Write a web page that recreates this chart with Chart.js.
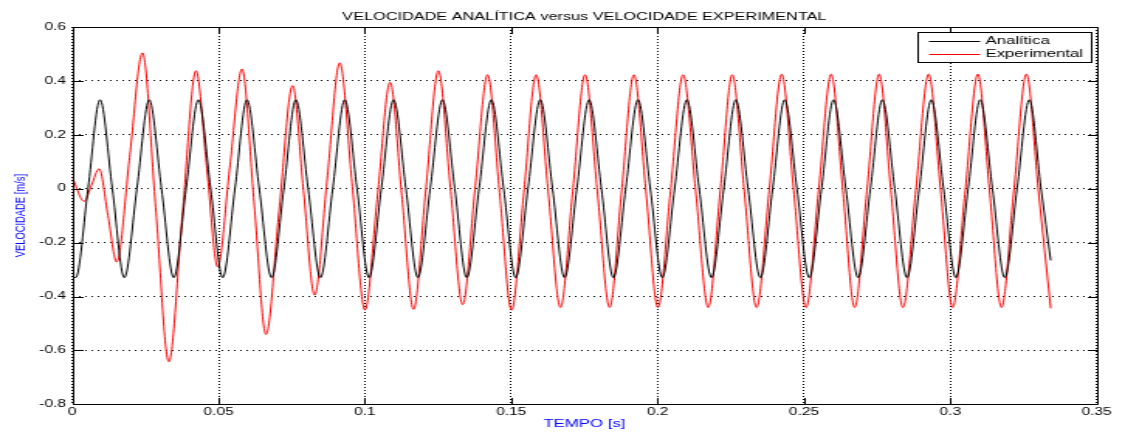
<!DOCTYPE html>
<html>
<head>
<meta charset="utf-8">
<script src="https://cdn.jsdelivr.net/npm/chart.js@4/dist/chart.umd.min.js"></script>
<style>
  html, body { margin: 0; padding: 0; background: #fff; overflow: hidden; }
  #wrap { width: 1125px; height: 432px; position: relative; }
  #c { position: absolute; left: 0; top: 0; transform: scaleX(1.5496); transform-origin: 0 0; }
</style>
</head>
<body>
<div id="wrap"><canvas id="c" width="726" height="432"></canvas></div>
<script>
// ---- data ----
const chartTitle = 'VELOCIDADE ANALÍTICA versus VELOCIDADE EXPERIMENTAL';
const xTitle = 'TEMPO [s]';
const yTitle = 'VELOCIDADE [m/s]';
const seriesNames = ['Analítica', 'Experimental'];

const xTickLabels = ['0', '0.05', '0.1', '0.15', '0.2', '0.25', '0.3', '0.35'];
const yTickLabels = ['-0.8', '-0.6', '-0.4', '-0.2', '0', '0.2', '0.4', '0.6'];

// Analítica (black): time [s]
const tAnalitica = [0,
  0.0012, 0.0054, 0.0095, 0.0137,
  0.0178, 0.0221, 0.0263, 0.0305,
  0.0347, 0.0389, 0.0431, 0.0473,
  0.0514, 0.0556, 0.0597, 0.0639,
  0.0681, 0.0723, 0.0764, 0.0806,
  0.0848, 0.0890, 0.0931, 0.0973,
  0.1014, 0.1056, 0.1098, 0.1140,
  0.1181, 0.1223, 0.1265, 0.1307,
  0.1348, 0.1390, 0.1432, 0.1474,
  0.1515, 0.1557, 0.1599, 0.1641,
  0.1682, 0.1724, 0.1766, 0.1808,
  0.1849, 0.1891, 0.1933, 0.1975,
  0.2016, 0.2058, 0.2100, 0.2142,
  0.2184, 0.2226, 0.2267, 0.2309,
  0.2351, 0.2393, 0.2434, 0.2476,
  0.2518, 0.2560, 0.2601, 0.2643,
  0.2685, 0.2727, 0.2768, 0.2810,
  0.2852, 0.2894, 0.2935, 0.2977,
  0.3019, 0.3061, 0.3102, 0.3144,
  0.3186, 0.3228, 0.3270, 0.3310,
  0.3343];
// Analítica (black): velocity [m/s]
const vAnalitica = [-0.325,
  -0.33, 0, 0.33, 0,
  -0.33, 0, 0.33, 0,
  -0.33, 0, 0.33, 0,
  -0.33, 0, 0.33, 0,
  -0.33, 0, 0.33, 0,
  -0.33, 0, 0.33, 0,
  -0.33, 0, 0.33, 0,
  -0.33, 0, 0.33, 0,
  -0.33, 0, 0.33, 0,
  -0.33, 0, 0.33, 0,
  -0.33, 0, 0.33, 0,
  -0.33, 0, 0.33, 0,
  -0.33, 0, 0.33, 0,
  -0.33, 0, 0.33, 0,
  -0.33, 0, 0.33, 0,
  -0.33, 0, 0.33, 0,
  -0.33, 0, 0.33, 0,
  -0.33, 0, 0.33, 0,
  -0.33, 0, 0.33, 0,
  -0.33, 0, 0.33, 0,
  -0.266];

// Experimental (red): time [s]
const tExperimental = [0, 0.0041, 0.0066, 0.0092, 0.0122, 0.0152, 0.0196, 0.0240, 0.0285, 0.0330,
  0.0376, 0.0423, 0.0460, 0.0497, 0.0538, 0.0580, 0.0621, 0.0662, 0.0707, 0.0753,
  0.0790, 0.0828, 0.0871, 0.0914, 0.0957, 0.1000, 0.1043, 0.1086, 0.1126, 0.1166,
  0.1208, 0.1251, 0.1292, 0.1334, 0.1376, 0.1419, 0.1460, 0.1501, 0.1543, 0.1585,
  0.1626, 0.1668, 0.1710, 0.1752, 0.1794, 0.1836, 0.1877, 0.1919, 0.1960, 0.2001,
  0.2044, 0.2087, 0.2130, 0.2173, 0.2214, 0.2255, 0.2296, 0.2338, 0.2381, 0.2424,
  0.2465, 0.2507, 0.2550, 0.2593, 0.2633, 0.2673, 0.2715, 0.2757, 0.2797, 0.2838,
  0.2882, 0.2926, 0.2967, 0.3008, 0.3051, 0.3094, 0.3134, 0.3175, 0.3217, 0.3260,
  0.3301, 0.3343];
// Experimental (red): velocity [m/s]
const vExperimental = [0.043, -0.047, 0.013, 0.074, -0.099, -0.272, 0.116, 0.504, -0.069, -0.642,
  -0.102, 0.438, 0.074, -0.290, 0.077, 0.444, -0.048, -0.541, -0.079, 0.383,
  -0.006, -0.395, 0.036, 0.467, 0.008, -0.450, -0.027, 0.395, -0.026, -0.448,
  -0.005, 0.438, 0.004, -0.430, -0.003, 0.423, -0.014, -0.451, -0.014, 0.423,
  -0.009, -0.441, -0.009, 0.423, -0.009, -0.441, -0.009, 0.423, -0.009, -0.441,
  -0.009, 0.423, -0.009, -0.441, -0.009, 0.423, -0.009, -0.441, -0.008, 0.425,
  -0.008, -0.441, -0.008, 0.425, -0.008, -0.441, -0.008, 0.425, -0.008, -0.441,
  -0.008, 0.425, -0.008, -0.441, -0.008, 0.425, -0.008, -0.441, -0.008, 0.425,
  -0.008, -0.444];

// ---- chart ----
const FONT = "'Liberation Sans', Arial, Helvetica, sans-serif";
Chart.defaults.font.family = FONT;
Chart.defaults.color = '#000';

const toPoints = (ts, vs) => ts.map((t, i) => ({ x: t, y: vs[i] }));

const crisp = v => Math.round(v) + 0.5;

const framePlugin = {
  id: 'matlabFrame',
  afterDatasetsDraw(chart) {
    const { ctx, chartArea: a, scales } = chart;
    const x = scales.x, y = scales.y;
    ctx.save();
    ctx.setLineDash([]);
    ctx.strokeStyle = '#000';
    ctx.lineWidth = 1;
    const L = crisp(a.left), R = crisp(a.right), T = crisp(a.top), B = crisp(a.bottom);
    ctx.beginPath();
    ctx.rect(L, T, R - L, B - T);
    // inward tick marks on all four sides
    x.ticks.forEach(t => {
      const px = crisp(x.getPixelForValue(t.value));
      ctx.moveTo(px, B); ctx.lineTo(px, B - 6.5);
      ctx.moveTo(px, T); ctx.lineTo(px, T + 6.5);
    });
    y.ticks.forEach(t => {
      const py = crisp(y.getPixelForValue(t.value));
      ctx.moveTo(L, py); ctx.lineTo(L + 6.5, py);
      ctx.moveTo(R, py); ctx.lineTo(R - 6.5, py);
    });
    ctx.stroke();

    // legend box (top-right, inside the axes)
    const bw = 112, bh = 30;
    const bx = crisp(a.right - 4 - bw), by = crisp(a.top + 5);
    ctx.fillStyle = '#fff';
    ctx.fillRect(bx, by, bw, bh);
    ctx.strokeRect(bx, by, bw, bh);
    ctx.font = "10.8px " + FONT;
    ctx.textBaseline = 'middle';
    ctx.textAlign = 'left';
    chart.data.datasets.forEach((ds, i) => {
      const ry = by + 8.5 + i * 12.6;
      ctx.strokeStyle = ds.borderColor;
      ctx.beginPath();
      ctx.moveTo(bx + 7, Math.round(ry) + 0.5);
      ctx.lineTo(bx + 40, Math.round(ry) + 0.5);
      ctx.stroke();
      ctx.fillStyle = '#000';
      ctx.fillText(ds.label, bx + 43.5, ry + 0.5);
    });
    ctx.restore();
  }
};

new Chart(document.getElementById('c'), {
  type: 'line',
  data: {
    datasets: [
      {
        label: seriesNames[0],
        data: toPoints(tAnalitica, vAnalitica),
        borderColor: '#000000',
        borderWidth: 1,
        pointRadius: 0,
        fill: false,
        cubicInterpolationMode: 'monotone'
      },
      {
        label: seriesNames[1],
        data: toPoints(tExperimental, vExperimental),
        borderColor: '#ff0000',
        borderWidth: 1,
        pointRadius: 0,
        fill: false,
        cubicInterpolationMode: 'monotone'
      }
    ]
  },
  options: {
    responsive: false,
    animation: false,
    devicePixelRatio: 1,
    layout: { padding: { left: 0, right: 18.3, top: 0, bottom: 0 } },
    plugins: {
      legend: { display: false },
      tooltip: { enabled: false },
      title: {
        display: true,
        fullSize: false,
        text: chartTitle,
        color: '#000',
        font: { size: 10.5, weight: 'normal' },
        padding: { top: 11, bottom: 3.4 }
      }
    },
    scales: {
      x: {
        type: 'linear',
        min: 0,
        max: 0.35,
        afterFit(s) { s.height = 27.7; },
        ticks: {
          stepSize: 0.05,
          autoSkip: false,
          maxRotation: 0,
          padding: 2,
          color: '#000',
          font: { size: 10 },
          callback: (v, i) => xTickLabels[i]
        },
        grid: { color: '#000', lineWidth: 1, drawTicks: false },
        border: { display: false, dash: [1, 2] },
        title: {
          display: true,
          text: xTitle,
          color: '#0000ff',
          font: { size: 10.8 },
          padding: { top: 0, bottom: 1.5 }
        }
      },
      y: {
        type: 'linear',
        min: -0.8,
        max: 0.6,
        afterFit(s) { s.width = 46.6; },
        ticks: {
          stepSize: 0.2,
          autoSkip: false,
          padding: 4,
          color: '#000',
          font: { size: 10 },
          callback: (v, i) => yTickLabels[i]
        },
        grid: { color: '#000', lineWidth: 1, drawTicks: false },
        border: { display: false, dash: [1, 3] },
        title: {
          display: true,
          text: yTitle,
          color: '#0000ff',
          font: { size: 9.4 },
          padding: { top: 7.5, bottom: 0 }
        }
      }
    }
  },
  plugins: [framePlugin]
});
</script>
</body>
</html>
